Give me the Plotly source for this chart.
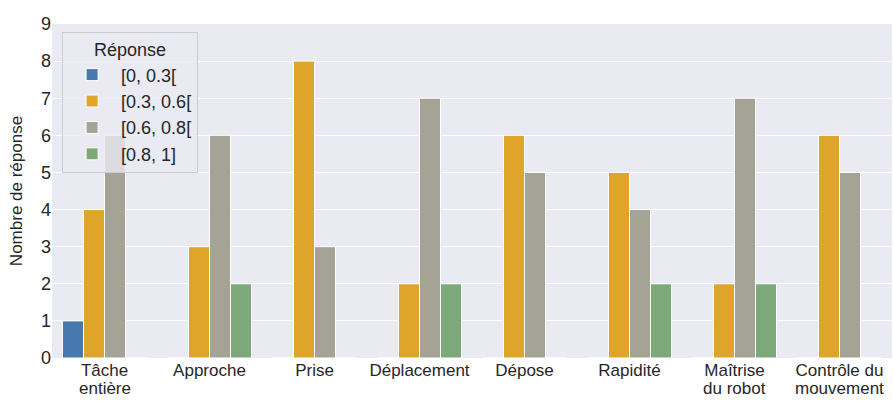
import plotly.graph_objects as go

categories = ["Tâche entière", "Approche", "Prise", "Déplacement", "Dépose",
              "Rapidité", "Maîtrise du robot", "Contrôle du mouvement"]
label_line1 = ["Tâche", "Approche", "Prise", "Déplacement", "Dépose",
               "Rapidité", "Maîtrise", "Contrôle du"]
label_line2 = ["entière", "", "", "", "", "", "du robot", "mouvement"]
series_names = ["[0, 0.3[", "[0.3, 0.6[", "[0.6, 0.8[", "[0.8, 1]"]
v_0_03 = [1, 0, 0, 0, 0, 0, 0, 0]
v_03_06 = [4, 3, 8, 2, 6, 5, 2, 6]
v_06_08 = [6, 6, 3, 7, 5, 4, 7, 5]
v_08_1 = [0, 2, 0, 2, 0, 2, 2, 0]
series_values = [v_0_03, v_03_06, v_06_08, v_08_1]
colors = ["#4878B0", "#DFA52A", "#A5A296", "#7DA87A"]

fig = go.Figure()
for name, vals, col in zip(series_names, series_values, colors):
    fig.add_trace(go.Bar(x=categories, y=vals, name=name, legendgroup=name,
                         marker=dict(color=col, line=dict(color="white", width=1))))

font_family = "Liberation Sans, Arial, sans-serif"
txt = "#262626"
annotations = []
for cat, l2 in zip(categories, label_line2):
    if l2:
        annotations.append(dict(x=cat, y=0, xref="x", yref="y", text=l2,
                                showarrow=False, yanchor="top", yshift=-21,
                                borderpad=0, borderwidth=0,
                                font=dict(size=17, color=txt, family=font_family)))

fig.update_layout(
    width=894, height=401,
    margin=dict(l=52, r=2, t=24, b=43),
    paper_bgcolor="white",
    plot_bgcolor="#EAEAF2",
    barmode="group",
    bargap=0.2,
    bargroupgap=0,
    font=dict(family=font_family, size=18, color=txt),
    annotations=annotations,
    legend=dict(
        x=0.012, y=0.976, xanchor="left", yanchor="top",
        bgcolor="rgba(234,234,242,0.8)",
        bordercolor="#CCCCCC", borderwidth=1,
        font=dict(size=18, color=txt),
        title=dict(text="Réponse", side="top center", font=dict(size=18, color=txt)),
        itemwidth=48,
        tracegroupgap=0,
    ),
    xaxis=dict(showgrid=False, showline=False, zeroline=False, ticks="",
               tickmode="array", tickvals=categories, ticktext=label_line1,
               tickfont=dict(size=17), ticklabelstandoff=0, automargin=False),
    yaxis=dict(range=[0, 9], dtick=1, showgrid=True, gridcolor="white", gridwidth=1,
               zeroline=False, showline=False, ticks="",
               tickfont=dict(size=18), automargin=False,
               title=dict(text="Nombre de réponse", font=dict(size=17), standoff=14)),
)

fig.write_html("out.html", config={"displayModeBar": False},
               post_script="document.body.style.margin='0';document.body.style.overflow='hidden';")
